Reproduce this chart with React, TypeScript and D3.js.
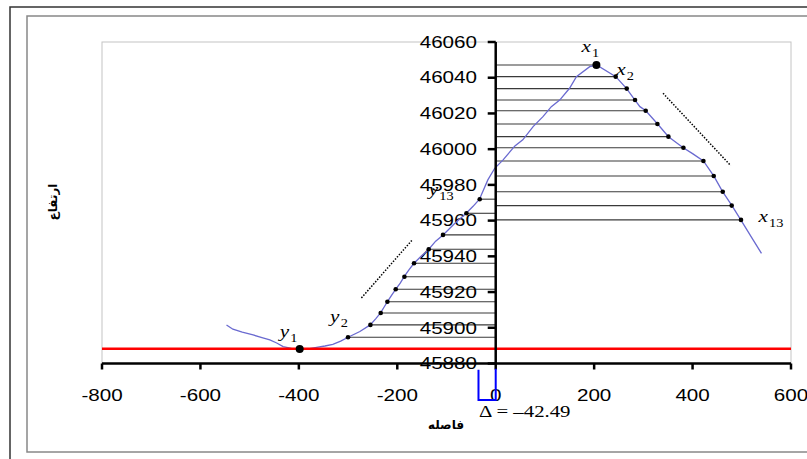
import React from "react";
import * as d3 from "d3";

// ---- data ----
const xTicks = [-800, -600, -400, -200, 0, 200, 400, 600];
const yTicks = [45880, 45900, 45920, 45940, 45960, 45980, 46000, 46020, 46040, 46060];

// ground profile (distance, elevation)
const profileX = [-547, -534, -515, -493, -475, -459, -445, -432, -415, -398, -381, -364, -347, -331, -315, -300, -276, -255, -244, -234, -227, -220, -212, -203, -194, -186, -176, -166, -150, -136, -122, -107, -85, -60, -46, -33, -16, -2, 15, 39, 55, 76, 96, 113, 130, 150, 164, 191, 205, 244, 266, 283, 293, 305, 329, 351, 381, 400, 422, 443, 461, 480, 498, 523, 540];
const profileY = [45901.6, 45899.2, 45897.5, 45896, 45894.5, 45893.2, 45891.5, 45889.5, 45888.5, 45887.9, 45888.2, 45889, 45889.8, 45890.7, 45892.5, 45894.7, 45897.9, 45901.6, 45905, 45908.3, 45911.5, 45914.6, 45918, 45921.6, 45925, 45928.6, 45932.5, 45936.1, 45940.5, 45944, 45948.5, 45952, 45958, 45964.1, 45968, 45972, 45982.8, 45989.3, 45994, 46001.8, 46005.2, 46012.6, 46018.2, 46023.8, 46027.5, 46034.1, 46040.6, 46046.2, 46047.1, 46040.6, 46033.9, 46027.5, 46023.8, 46021.5, 46014.1, 46007, 46000.8, 45997.5, 45993.4, 45985, 45976.2, 45968.4, 45960.4, 45949.2, 45941.7];

// right side points x1..x13
const rightX = [204.6, 243.8, 266.2, 283.1, 304.8, 328.6, 350.9, 381.4, 422, 443, 461.3, 479.5, 498.4];
const rightY = [46047.1, 46040.6, 46033.9, 46027.5, 46021.5, 46014.1, 46007, 46000.8, 45993.4, 45985, 45976.2, 45968.4, 45960.4];

// left side points y1..
const leftX = [-398.3, -300.1, -254.6, -233.7, -220.1, -203.2, -185.5, -166, -136.1, -107.1, -59.5, -32.5];
const leftY = [45888.1, 45894.7, 45901.6, 45908.3, 45914.6, 45921.6, 45928.6, 45936.1, 45944, 45952, 45964.1, 45972];

const baseLevel = 45888.2; // red line
const dottedA = [[-272.9, 45916.7], [-168.7, 45949.5]];
const dottedB = [[340, 46031.3], [477.5, 45990.8]];
const deltaBracketX = [-35, 0];
const deltaBracketY = [45876.5, 45859.5];
const deltaText = "Δ = –42.49";
const xTitle = "فاصله";
const yTitle = "ارتفاع";

export default function App() {
  const x = d3.scaleLinear().domain([-800, 600]).range([102, 791]);
  const y = d3.scaleLinear().domain([45880, 46060]).range([363.5, 42]);
  const line = d3.line<number>().x((_, i) => x(profileX[i])).y((d) => y(d));
  const sx = 1.25;
  const tf = "Liberation Sans, Arial, sans-serif";
  const serif = "Liberation Serif, Times New Roman, serif";

  const label = (
    main: string,
    sub: string,
    px: number,
    py: number,
    key: string
  ) => (
    <g key={key} transform={`translate(${px},${py}) scale(${sx},1)`}>
      <text x={0} y={0} fontFamily={serif} fontStyle="italic" fontSize={17}>
        {main}
      </text>
      <text x={8.5} y={5} fontFamily={serif} fontSize={11.5}>
        {sub}
      </text>
    </g>
  );

  return (
    <svg
      width={807}
      height={459}
      style={{ position: "fixed", left: 0, top: 0, background: "#fff" }}
    >
      <rect x={0} y={0} width={807} height={459} fill="#fff" />
      {/* borders */}
      <rect x={10} y={7} width={820} height={470} fill="none" stroke="#333" strokeWidth={1.5} />
      <rect x={27} y={16} width={800} height={436} fill="none" stroke="#888" strokeWidth={1.5} />
      <rect x={x(-800)} y={y(46060)} width={x(600) - x(-800)} height={y(45880) - y(46060)} fill="none" stroke="#c4c4c4" strokeWidth={1} />

      {/* hatch lines right */}
      {rightX.map((v, i) => (
        <line key={"hr" + i} x1={x(0)} x2={x(v)} y1={y(rightY[i])} y2={y(rightY[i])} stroke="#3a3a3a" strokeWidth={1.1} />
      ))}
      {/* hatch lines left */}
      {leftX.slice(1).map((v, i) => (
        <line key={"hl" + i} x1={x(v)} x2={x(0)} y1={y(leftY[i + 1])} y2={y(leftY[i + 1])} stroke="#3a3a3a" strokeWidth={1.1} />
      ))}

      {/* y tick labels */}
      {yTicks.map((t) => (
        <text key={"yl" + t} transform={`translate(477,${y(t)}) scale(${sx},1)`} textAnchor="end" dominantBaseline="central" fontFamily={tf} fontSize={16.5}>
          {t}
        </text>
      ))}

      {/* profile */}
      <path d={line(profileY) || ""} fill="none" stroke="#6a6ad0" strokeWidth={1.3} />

      {/* red line */}
      <line x1={x(-800)} x2={x(600)} y1={y(baseLevel)} y2={y(baseLevel)} stroke="#ff0000" strokeWidth={2.5} />

      {/* dotted lines */}
      {[dottedA, dottedB].map((d, i) => (
        <line key={"dl" + i} x1={x(d[0][0])} y1={y(d[0][1])} x2={x(d[1][0])} y2={y(d[1][1])} stroke="#000" strokeWidth={1.5} strokeDasharray="1.5,1.5" />
      ))}

      {/* points */}
      {rightX.map((v, i) => (
        <circle key={"pr" + i} cx={x(v)} cy={y(rightY[i])} r={i === 0 ? 4 : 2.3} fill="#000" />
      ))}
      {leftX.map((v, i) => (
        <circle key={"pl" + i} cx={x(v)} cy={y(leftY[i])} r={i === 0 ? 4 : 2.3} fill="#000" />
      ))}

      {/* axes */}
      <line x1={x(-800)} x2={x(600)} y1={y(45880)} y2={y(45880)} stroke="#000" strokeWidth={2.5} />
      <line x1={x(0)} x2={x(0)} y1={y(46060)} y2={y(45880)} stroke="#000" strokeWidth={2.5} />
      {yTicks.map((t) => (
        <line key={"yt" + t} x1={x(0) - 8} x2={x(0)} y1={y(t)} y2={y(t)} stroke="#000" strokeWidth={2.5} />
      ))}
      {xTicks.map((t) => (
        <line key={"xt" + t} x1={x(t)} x2={x(t)} y1={y(45880)} y2={y(45880) + 6} stroke="#000" strokeWidth={2.5} />
      ))}
      {xTicks.map((t) => (
        <text key={"xl" + t} transform={`translate(${x(t)},400.5) scale(${sx},1)`} textAnchor="middle" fontFamily={tf} fontSize={16.5}>
          {t}
        </text>
      ))}

      {/* delta bracket */}
      <path
        d={`M${x(deltaBracketX[0])},${y(deltaBracketY[0])} L${x(deltaBracketX[0])},${y(deltaBracketY[1])} L${x(deltaBracketX[1])},${y(deltaBracketY[1])} L${x(deltaBracketX[1])},${y(deltaBracketY[0]) - 1}`}
        fill="none"
        stroke="#0000ff"
        strokeWidth={2}
      />
      <text transform={`translate(479,417) scale(1.3,1)`} fontFamily={serif} fontSize={16}>
        {deltaText}
      </text>

      {/* point labels */}
      {label("x", "1", x(rightX[0]) - 15, y(rightY[0]) - 13.5, "lx1")}
      {label("x", "2", x(rightX[1]) + 0.5, y(rightY[1]) - 1.5, "lx2")}
      {label("x", "13", x(rightX[12]) + 17.5, y(rightY[12]) + 2.5, "lx13")}
      {label("y", "1", x(leftX[0]) - 20, y(leftY[0]) - 12, "ly1")}
      {label("y", "2", x(leftX[1]) - 18, y(leftY[1]) - 15.5, "ly2")}
      {label("y", "13", x(leftX[11]) - 51, y(leftY[11]) - 4.5, "ly13")}

      {/* axis titles */}
      <text x={446} y={429} textAnchor="middle" fontFamily="DejaVu Sans" fontWeight="bold" fontSize={12} direction="rtl">
        {xTitle}
      </text>
      <text transform="translate(57,202) rotate(-90)" textAnchor="middle" fontFamily="DejaVu Sans" fontWeight="bold" fontSize={12} direction="rtl">
        {yTitle}
      </text>
    </svg>
  );
}
